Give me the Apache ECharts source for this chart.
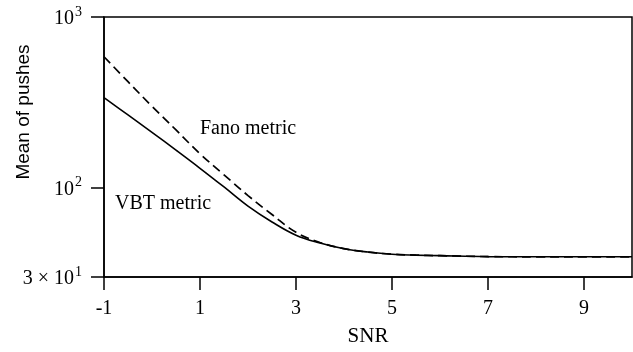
<!DOCTYPE html>
<html>
<head>
<meta charset="utf-8">
<script src="https://cdn.jsdelivr.net/npm/echarts@6/dist/echarts.min.js"></script>
<style>
  html, body { margin: 0; padding: 0; background: #fff; }
  #chart { width: 633px; height: 352px; }
</style>
</head>
<body>
<div id="chart"></div>
<script>
// SNR sample points (dB)
const snr = [-1, -0.5, 0, 0.5, 1, 1.5, 2, 2.5, 3, 3.5, 4, 4.5, 5, 5.5, 6, 7, 8, 9, 10];
// Mean number of stack pushes, VBT metric (solid) and Fano metric (dashed)
const vbtPushes  = [337, 267, 211, 166, 130, 101, 78, 63, 52.7, 47.4, 43.9, 42, 40.8, 40.3, 40, 39.5, 39.4, 39.4, 39.4];
const fanoPushes = [585, 418, 300, 218, 158, 119, 90, 69.7, 54.8, 47.8, 44, 42, 40.8, 40.3, 40, 39.5, 39.4, 39.4, 39.4];
// Axis ticks
const xTicks = [-1, 1, 3, 5, 7, 9];
const yTicks = [30, 100, 1000];

const serif = '"Liberation Serif", "DejaVu Serif", serif';
const sans = '"Liberation Sans", Arial, sans-serif';

function pairs(ys) { return snr.map((x, i) => [x, ys[i]]); }

function yLabel(v) {
  if (v === 1000) return '{b|10}{s|3}';
  if (v === 100) return '{b|10}{s|2}';
  if (v === 30) return '{b|3}{m|\u00d7}{b|10}{s|1}';
  return '';
}

const chart = echarts.init(document.getElementById('chart'), null, { renderer: 'canvas' });
chart.setOption({
  animation: false,
  backgroundColor: '#fff',
  grid: {
    left: 104, right: 1, top: 17, bottom: 69,
    show: true, borderColor: '#000', borderWidth: 1.5, backgroundColor: 'transparent'
  },
  xAxis: {
    type: 'value', min: -1, max: 10,
    name: 'SNR', nameLocation: 'middle', nameGap: 49,
    nameTextStyle: { fontFamily: serif, fontSize: 21, color: '#000' },
    axisLine: { show: true, onZero: false, lineStyle: { color: '#000', width: 1.5 } },
    axisTick: { show: true, length: 13, customValues: xTicks, lineStyle: { color: '#000', width: 1.5 } },
    axisLabel: { customValues: xTicks, margin: 22, fontFamily: serif, fontSize: 20, color: '#000' },
    splitLine: { show: false }
  },
  yAxis: {
    type: 'log', logBase: 10, min: 30, max: 1000,
    axisLine: { show: true, onZero: false, lineStyle: { color: '#000', width: 1.5 } },
    axisTick: { show: true, length: 13, customValues: yTicks, lineStyle: { color: '#000', width: 1.5 } },
    axisLabel: {
      customValues: yTicks, margin: 22, color: '#000',
      formatter: yLabel,
      rich: {
        b: { fontFamily: serif, fontSize: 20, color: '#000', lineHeight: 24, verticalAlign: 'bottom' },
        m: { fontFamily: serif, fontSize: 20, color: '#000', lineHeight: 24, verticalAlign: 'bottom', padding: [0, 5, 0, 5] },
        s: { fontFamily: serif, fontSize: 14, color: '#000', lineHeight: 24, verticalAlign: 'top', padding: [0, 0, 6, 1] }
      }
    },
    splitLine: { show: false },
    minorTick: { show: false }
  },
  graphic: [
    {
      type: 'text', left: 200, top: 119,
      style: { text: 'Fano metric', font: '20px ' + serif, fill: '#000' }
    },
    {
      type: 'text', left: 115, top: 194,
      style: { text: 'VBT metric', font: '20px ' + serif, fill: '#000' }
    },
    {
      type: 'text', x: 14, y: 112, rotation: Math.PI / 2,
      style: { text: 'Mean of pushes', font: '19px ' + sans, fill: '#000', align: 'center', verticalAlign: 'top' }
    }
  ],
  series: [
    {
      name: 'Fano metric', type: 'line', data: pairs(fanoPushes),
      showSymbol: false, smooth: 0.4, z: 2,
      lineStyle: { color: '#000', width: 1.7, type: [9, 5] }
    },
    {
      name: 'VBT metric', type: 'line', data: pairs(vbtPushes),
      showSymbol: false, smooth: 0.4, z: 3,
      lineStyle: { color: '#000', width: 1.6, type: 'solid' }
    }
  ]
});
</script>
</body>
</html>
